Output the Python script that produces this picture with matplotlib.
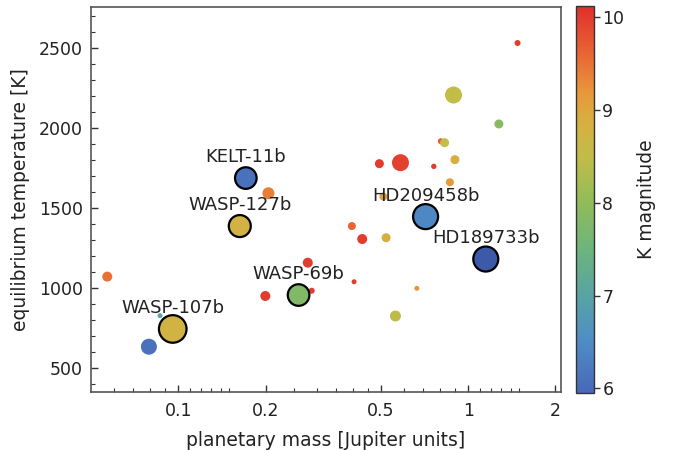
import numpy as np
import matplotlib
matplotlib.use("Agg")
import matplotlib.pyplot as plt
from matplotlib.colors import LinearSegmentedColormap, Normalize
from matplotlib.ticker import FixedLocator, NullFormatter

# ---------------- data ----------------
# unlabeled planets
mass = [1.48, 0.89, 1.276, 0.805, 0.829, 0.494, 0.584, 0.761, 0.90, 0.865,
        0.510, 0.397, 0.431, 0.521, 0.404, 0.665, 0.561,
        0.0569, 0.0865, 0.0792, 0.1997, 0.2797, 0.2886, 0.2046]
teq = [2531, 2206, 2025, 1917, 1908, 1777, 1783, 1760, 1802, 1661,
       1571, 1387, 1306, 1314, 1039, 998, 825,
       1071, 827, 633, 950, 1158, 983, 1592]
kmag = [10.0, 8.5, 7.9, 9.7, 8.5, 10.0, 9.95, 10.0, 8.85, 9.15,
        9.1, 9.6, 10.0, 8.85, 10.0, 9.2, 8.45,
        9.5, 7.1, 6.1, 10.0, 10.0, 10.0, 9.4]
signal = [3.0, 8.5, 4.5, 3.0, 4.5, 4.5, 8.5, 2.7, 4.5, 4.0,
          4.0, 4.0, 5.0, 4.5, 2.5, 2.5, 5.5,
          5.0, 2.5, 8.0, 5.0, 5.0, 3.0, 6.0]

# labeled targets
names = ["KELT-11b", "WASP-127b", "WASP-107b", "WASP-69b", "HD209458b", "HD189733b"]
name_mass = [0.171, 0.163, 0.0957, 0.260, 0.713, 1.15]
name_teq = [1687, 1387, 744, 956, 1446, 1181]
name_kmag = [6.1, 8.8, 8.75, 7.8, 6.45, 5.6]
name_signal = [11.8, 12.0, 14.8, 11.8, 13.5, 13.5]

xticks_major = [0.1, 0.2, 0.5, 1, 2]
xtick_labels = ["0.1", "0.2", "0.5", "1", "2"]
xticks_minor = [0.06, 0.07, 0.08, 0.09, 0.11, 0.12, 0.13, 0.14, 0.15,
                0.25, 0.3, 0.35, 0.4, 0.45, 0.6, 0.7, 0.8, 0.9,
                1.1, 1.2, 1.3, 1.4, 1.5]
yticks_major = [500, 1000, 1500, 2000, 2500]
cbar_ticks = [6, 7, 8, 9, 10]

# ---------------- style ----------------
plt.rcParams['font.family'] = ['DejaVu Sans']
txt = '#222222'
vmin, vmax = 5.95, 10.12
stops = [(5.95, '#4868b8'), (6.5, '#4f8cc6'), (7.0, '#58a4a4'), (7.5, '#6db47c'),
         (8.0, '#90bc5a'), (8.5, '#c2bc48'), (8.9, '#d8ae40'), (9.2, '#e8963a'),
         (9.6, '#e86634'), (10.12, '#e0302c')]
cmap = LinearSegmentedColormap.from_list(
    'darkrainbow', [((v - vmin) / (vmax - vmin), c) for v, c in stops])
cmap.set_under('#3c5aa8')
norm = Normalize(vmin=vmin, vmax=vmax)

dpi = 100
fig = plt.figure(figsize=(6.76, 4.5), dpi=dpi)
ax = fig.add_axes([91/676, 1 - 392/450, 470/676, 385/450])

def area(r_px):
    r_pt = r_px * 72 / dpi
    return (2 * r_pt) ** 2

ax.scatter(mass, teq, s=[area(r) for r in signal], c=kmag, cmap=cmap, norm=norm,
           edgecolors='none', zorder=2)
ax.scatter(name_mass, name_teq, s=[area(r - 1) for r in name_signal], c=name_kmag,
           cmap=cmap, norm=norm, edgecolors='black', linewidths=1.6, zorder=3)
for n, m, t in zip(names, name_mass, name_teq):
    ax.annotate(n, (m, t), xytext=(0, 16), textcoords='offset pixels',
                ha='center', va='baseline', fontsize=13, color=txt, zorder=4)

ax.set_xscale('log')
ax.set_xlim(0.05, 2.09)
ax.set_ylim(350, 2756)
ax.xaxis.set_major_locator(FixedLocator(xticks_major))
ax.set_xticklabels(xtick_labels)
ax.xaxis.set_minor_locator(FixedLocator(xticks_minor))
ax.xaxis.set_minor_formatter(NullFormatter())
ax.yaxis.set_major_locator(FixedLocator(yticks_major))
ax.yaxis.set_minor_locator(FixedLocator(list(range(400, 2800, 100))))
ax.tick_params(which='both', direction='in', top=False, right=False,
               colors='#333333', labelcolor=txt, labelsize=12.5)
ax.tick_params(which='major', length=5, width=1)
ax.tick_params(which='minor', length=3, width=0.8)
ax.tick_params(axis='y', pad=6)
ax.tick_params(axis='x', pad=7)
for sp in ax.spines.values():
    sp.set_color('#555555')
    sp.set_linewidth(1.2)

ax.set_xlabel('planetary mass [Jupiter units]', fontsize=13.5, color=txt, labelpad=8)
ax.set_ylabel('equilibrium temperature [K]', fontsize=13.5, color=txt, labelpad=6)

cax = fig.add_axes([576/676, 1 - 393/450, 18/676, 387/450])
sm = matplotlib.cm.ScalarMappable(norm=norm, cmap=cmap)
cb = fig.colorbar(sm, cax=cax, ticks=cbar_ticks)
cb.outline.set_edgecolor('#333333')
cb.outline.set_linewidth(1.0)
cax.tick_params(direction='out', length=4, width=1, labelsize=12.5,
                colors='#333333', labelcolor=txt, pad=2)
cb.set_label('K magnitude', fontsize=13.5, color=txt, labelpad=9)

fig.savefig('out.png', dpi=dpi)
